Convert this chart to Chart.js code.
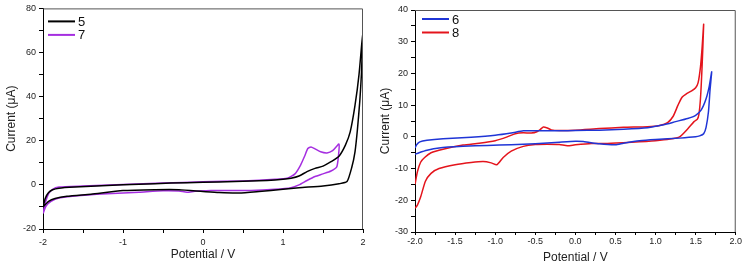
<!DOCTYPE html>
<html>
<head>
<meta charset="utf-8">
<script src="https://cdn.jsdelivr.net/npm/chart.js@4.4.0/dist/chart.umd.min.js"></script>
<style>
  body { margin: 0; background: #fff; }
  canvas { position: absolute; top: 0; }
</style>
</head>
<body>
<canvas id="leftChart" width="370" height="266" style="left:0"></canvas>
<canvas id="rightChart" width="373" height="266" style="left:370px"></canvas>
<script>
// compound 5 (black)
const x5 = [-2.0, -1.97, -1.93, -1.88, -1.8, -1.6, -1.2, -0.8, -0.4, 0.0, 0.4, 0.8, 1.0, 1.1, 1.2, 1.3, 1.4, 1.5, 1.6, 1.7, 1.78, 1.84, 1.9, 1.95, 2.0,
            1.98, 1.96, 1.93, 1.9, 1.86, 1.8, 1.7, 1.5, 1.2, 1.0, 0.7, 0.45, 0.2, 0.0, -0.3, -0.6, -1.0, -1.4, -1.7, -1.85, -1.93, -2.0];
const y5 = [-10, -6, -3.5, -2.2, -1.5, -1, -0.3, 0.3, 0.8, 1.2, 1.5, 2, 2.5, 3, 4, 6, 7.5, 8.5, 10.5, 13, 18, 24, 36, 50, 70,
            50, 38, 25, 15, 8, 1.5, 0.5, -0.5, -1.3, -2, -3, -3.7, -3.5, -3, -2.2, -2.2, -2.6, -4.2, -5.2, -6.2, -7.5, -10];
// compound 7 (purple)
const x7 = [-2.0, -1.97, -1.93, -1.88, -1.8, -1.5, -1.0, -0.5, 0.0, 0.5, 0.9, 1.05, 1.15, 1.22, 1.27, 1.31, 1.35, 1.4, 1.47, 1.55, 1.62, 1.7,
            1.69, 1.67, 1.6, 1.5, 1.4, 1.3, 1.2, 1.1, 0.9, 0.6, 0.3, 0.1, -0.1, -0.2, -0.3, -0.5, -0.8, -1.2, -1.6, -1.8, -1.9, -1.96, -2.0];
const y7 = [-13, -8, -4, -2, -1, -0.5, 0.2, 0.8, 1.4, 1.8, 2.5, 3, 5, 9, 13, 16.5, 17.2, 16.3, 15, 14.5, 15.5, 18.5,
            12, 8, 6.3, 5, 3.8, 2, 0, -1.3, -2, -2.5, -2.5, -2.6, -2.9, -3.3, -2.8, -2.7, -3.3, -4, -5, -6, -7.5, -9.5, -13];
// compound 6 (blue)
const x6 = [-2.0, -1.98, -1.94, -1.85, -1.65, -1.3, -1.0, -0.8, -0.65, -0.5, -0.2, 0.0, 0.3, 0.6, 0.9, 1.1, 1.25, 1.4, 1.5, 1.57, 1.63, 1.67, 1.7,
            1.68, 1.66, 1.63, 1.6, 1.55, 1.5, 1.3, 1.0, 0.8, 0.6, 0.5, 0.3, 0.1, 0.0, -0.2, -0.5, -0.8, -1.1, -1.4, -1.7, -1.85, -1.95, -2.0];
const y6 = [-3.5, -2.5, -1.6, -1.1, -0.6, -0.1, 0.5, 1.2, 1.9, 1.9, 1.9, 2, 2.1, 2.4, 2.9, 3.8, 4.8, 5.8, 6.8, 8.5, 12, 16, 20.5,
            15, 8, 3, 1, 0.3, 0, -0.4, -0.8, -1.2, -2, -2.5, -2.2, -1.5, -1.4, -1.7, -2.2, -2.5, -2.7, -3, -3.5, -4.2, -5, -5.5];
// compound 8 (red)
const x8 = [-2.0, -1.97, -1.93, -1.88, -1.8, -1.65, -1.4, -1.2, -1.0, -0.85, -0.75, -0.65, -0.55, -0.48, -0.43, -0.4, -0.35, -0.3, -0.2, 0.0, 0.3, 0.6, 0.9, 1.05, 1.15, 1.22, 1.28, 1.33, 1.38, 1.45, 1.5, 1.53, 1.56, 1.58, 1.6,
            1.58, 1.56, 1.54, 1.52, 1.48, 1.4, 1.3, 1.18, 1.0, 0.7, 0.4, 0.2, 0.0, -0.1, -0.2, -0.35, -0.5, -0.65, -0.8, -0.9, -0.98, -1.05, -1.15, -1.3, -1.5, -1.7, -1.8, -1.87, -1.93, -1.97, -2.0];
const y8 = [-15, -11, -8, -6.5, -5, -3.9, -2.6, -2, -1.2, 0, 1, 1.3, 1.2, 1.6, 2.5, 3.1, 2.8, 2.2, 2, 2.1, 2.6, 3, 3.2, 3.6, 4.5, 6.5, 10, 12.5, 13.5, 14.5, 15.5, 17, 22, 28, 35.5,
            22, 12, 7, 5.5, 4.8, 2.5, 0, -0.7, -1.2, -1.7, -2.1, -2.1, -2.5, -2.8, -2.4, -2.3, -2.4, -3, -4.5, -6.5, -8.8, -8.2, -7.8, -8.1, -8.8, -10, -11.5, -14, -19, -21.5, -22.5];

// tick labels
const leftXMajor = [-2, -1, 0, 1, 2];
const leftYMajor = [-20, 0, 20, 40, 60, 80];
const rightXMajor = [-2.0, -1.5, -1.0, -0.5, 0.0, 0.5, 1.0, 1.5, 2.0];
const rightYMajor = [-30, -20, -10, 0, 10, 20, 30, 40];

const toPoints = (xs, ys) => xs.map((x, i) => ({ x: x, y: ys[i] }));
const isMajor = (list, v) => list.some(m => Math.abs(m - v) < 1e-6);

const framePlugin = {
    id: 'frame',
    afterDraw(chart) {
        const a = chart.chartArea;
        const c = chart.ctx;
        const o = chart.options.plugins.frame;
        c.save();
        c.strokeStyle = '#555';
        c.lineWidth = 1;
        c.beginPath();
        c.moveTo(a.left, a.top + 0.5);
        c.lineTo(a.right - 0.5, a.top + 0.5);
        c.lineTo(a.right - 0.5, a.bottom);
        c.stroke();
        // legend inside the plot
        c.font = '13px "Liberation Sans", Arial, sans-serif';
        c.textBaseline = 'middle';
        chart.data.datasets.forEach((ds, i) => {
            const y = a.top + o.legendTop + i * 13.5;
            const x = a.left + o.legendLeft;
            c.strokeStyle = ds.borderColor;
            c.lineWidth = 2;
            c.beginPath();
            c.moveTo(x, y);
            c.lineTo(x + 27, y);
            c.stroke();
            c.fillStyle = '#111';
            c.fillText(ds.label, x + 30, y + 1);
        });
        c.restore();
    }
};

function makeChart(id, datasets, cfg) {
    const tickFont = { family: '"Liberation Sans", Arial, sans-serif', size: 9 };
    const titleFont = { family: '"Liberation Sans", Arial, sans-serif', size: 12 };
    return new Chart(document.getElementById(id), {
        type: 'scatter',
        data: { datasets: datasets },
        plugins: [framePlugin],
        options: {
            responsive: false,
            animation: false,
            devicePixelRatio: 1,
            layout: { padding: { top: cfg.padTop, right: cfg.padRight, left: 0, bottom: 0 } },
            plugins: {
                legend: { display: false },
                tooltip: { enabled: false },
                frame: { legendTop: cfg.legendTop, legendLeft: cfg.legendLeft }
            },
            elements: { point: { radius: 0 }, line: { borderWidth: 1.5, tension: 0.2 } },
            scales: {
                x: {
                    min: cfg.xMin, max: cfg.xMax,
                    border: { color: '#000', width: 1 },
                    grid: { drawOnChartArea: false, tickLength: cfg.xTickLen, color: '#000' },
                    ticks: {
                        stepSize: cfg.xStep, autoSkip: false, maxRotation: 0, padding: cfg.xTickPad,
                        color: '#222', font: tickFont,
                        callback: v => isMajor(cfg.xMajor, v) ? cfg.xFmt(v) : ''
                    },
                    title: { display: true, text: 'Potential / V', color: '#222', font: titleFont,
                             padding: { top: 0, bottom: cfg.xTitlePad } },
                    afterFit: s => { s.height = cfg.xAxisH; }
                },
                y: {
                    min: cfg.yMin, max: cfg.yMax,
                    border: { color: '#000', width: 1 },
                    grid: { drawOnChartArea: false, tickLength: 4, color: '#000' },
                    ticks: {
                        stepSize: cfg.yStep, autoSkip: false, padding: 3,
                        color: '#222', font: tickFont,
                        callback: v => isMajor(cfg.yMajor, v) ? String(v) : ''
                    },
                    title: { display: true, text: 'Current (\u03bcA)', color: '#222', font: titleFont,
                             padding: { top: cfg.yTitlePad, bottom: 0 } },
                    afterFit: s => { s.width = cfg.yAxisW; }
                }
            }
        }
    });
}

makeChart('leftChart', [
    { label: '5', data: toPoints(x5, y5), showLine: true, borderColor: '#000000', backgroundColor: '#000000' },
    { label: '7', data: toPoints(x7, y7), showLine: true, borderColor: '#a52ee0', backgroundColor: '#a52ee0' }
], {
    xMin: -2, xMax: 2, xStep: 0.5, xMajor: leftXMajor, xFmt: v => String(v),
    yMin: -20, yMax: 80, yStep: 10, yMajor: leftYMajor,
    padTop: 7, padRight: 7, xAxisH: 37, yAxisW: 43,
    xTickLen: 4, xTickPad: 4, xTitlePad: 4, yTitlePad: 4,
    legendTop: 13, legendLeft: 5
});

makeChart('rightChart', [
    { label: '6', data: toPoints(x6, y6), showLine: true, borderColor: '#1f35d6', backgroundColor: '#1f35d6' },
    { label: '8', data: toPoints(x8, y8), showLine: true, borderColor: '#e4141c', backgroundColor: '#e4141c' }
], {
    xMin: -2, xMax: 2, xStep: 0.25, xMajor: rightXMajor, xFmt: v => v.toFixed(1),
    yMin: -30, yMax: 40, yStep: 5, yMajor: rightYMajor,
    padTop: 10, padRight: 7, xAxisH: 34, yAxisW: 45,
    xTickLen: 3, xTickPad: 1, xTitlePad: 1, yTitlePad: 8,
    legendTop: 9, legendLeft: 7
});
</script>
</body>
</html>
